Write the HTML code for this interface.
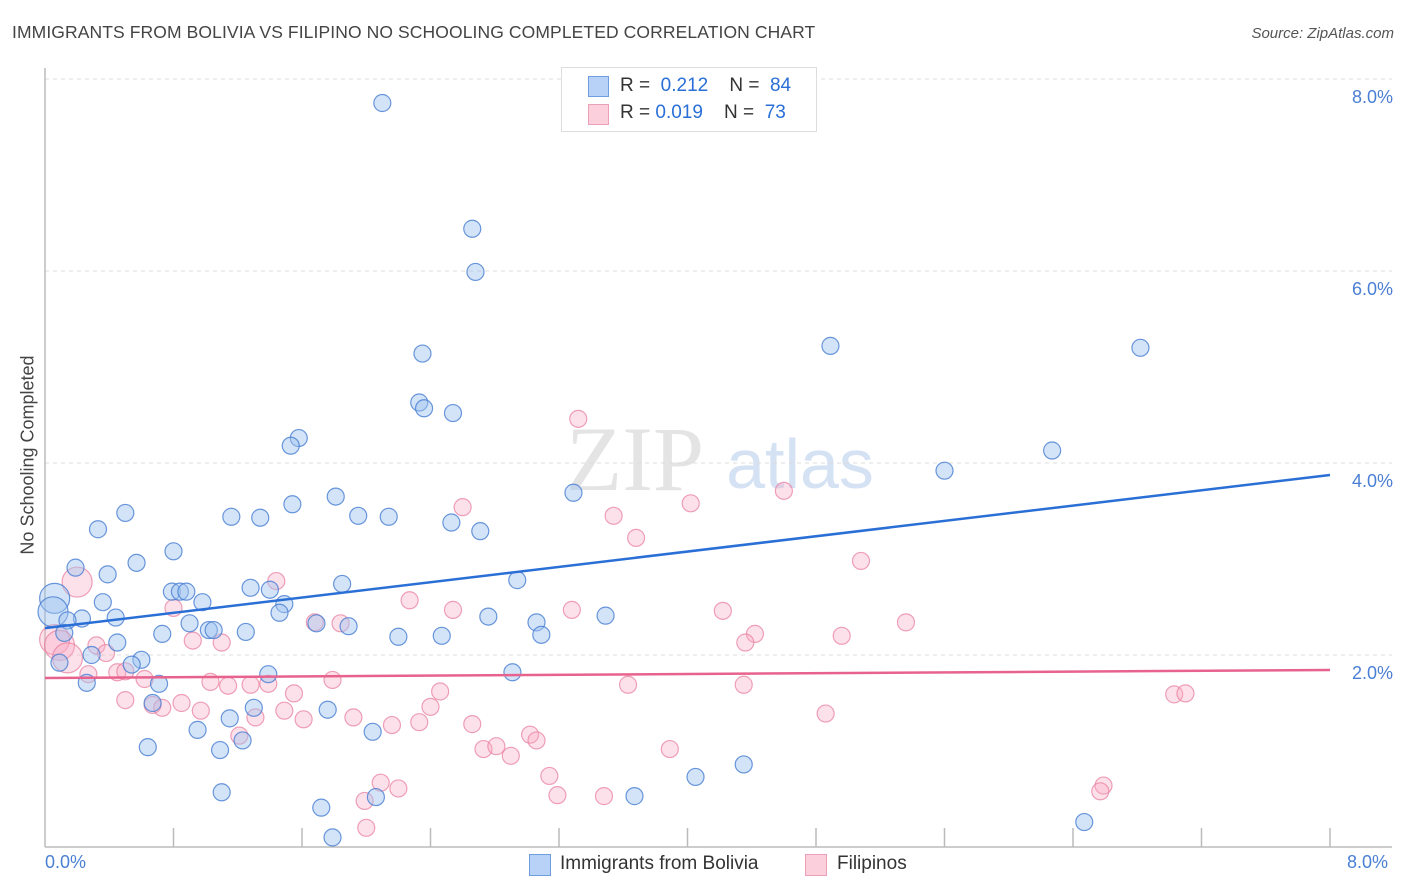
<!DOCTYPE html>
<html><head><meta charset="utf-8"><style>
body{margin:0;background:#fff;font-family:"Liberation Sans",sans-serif;}
#wrap{position:relative;width:1406px;height:892px;overflow:hidden;}
.t{position:absolute;white-space:nowrap;}
</style></head><body>
<div id="wrap">
<div class="t" style="left:12px;top:22px;font-size:17.5px;color:#444;letter-spacing:0.1px">IMMIGRANTS FROM BOLIVIA VS FILIPINO NO SCHOOLING COMPLETED CORRELATION CHART</div>
<div class="t" style="right:12px;top:25px;font-size:15px;color:#555;font-style:italic">Source: ZipAtlas.com</div>
<svg id="plot" width="1406" height="892" style="position:absolute;left:0;top:0"></svg>
</div>
<script>
const blueX=[2.10,2.66,2.68,2.35,4.89,6.82,2.33,2.36,2.54,1.58,1.53,6.27,5.60,3.29,1.81,1.54,0.50,0.33,1.16,1.34,1.95,2.14,2.53,2.71,0.80,0.57,0.19,0.39,1.85,2.94,1.28,1.40,0.79,0.84,0.88,0.98,0.36,1.49,0.06,0.05,1.46,0.23,0.14,0.44,2.76,3.49,0.90,1.69,1.89,3.06,1.02,1.05,1.25,0.73,0.12,2.20,2.47,3.09,0.45,0.60,0.29,0.54,0.09,0.26,0.71,1.39,2.91,0.67,1.30,1.76,1.15,0.95,2.04,1.23,0.64,1.09,4.05,4.35,1.10,2.06,3.67,1.72,1.79,6.47];
const blueY=[7.75,6.44,5.99,5.14,5.22,5.20,4.63,4.57,4.52,4.26,4.18,4.13,3.92,3.69,3.65,3.57,3.48,3.31,3.44,3.43,3.45,3.44,3.38,3.29,3.08,2.96,2.91,2.84,2.74,2.78,2.70,2.68,2.66,2.66,2.66,2.55,2.55,2.53,2.59,2.45,2.44,2.38,2.36,2.39,2.40,2.41,2.33,2.33,2.30,2.34,2.26,2.26,2.24,2.22,2.23,2.19,2.20,2.21,2.13,1.95,2.00,1.90,1.92,1.71,1.70,1.80,1.82,1.50,1.45,1.43,1.34,1.22,1.20,1.11,1.04,1.01,0.73,0.86,0.57,0.52,0.53,0.41,0.10,0.26];
const blueBig=[38,39];
const pinkX=[3.32,2.60,4.02,4.60,3.54,3.68,5.08,0.20,1.44,2.27,0.80,2.54,3.28,4.22,1.68,1.84,5.36,4.42,4.96,4.36,0.92,1.10,0.06,0.09,0.32,0.38,0.14,0.45,0.62,1.03,1.14,1.28,1.39,1.79,3.63,4.35,1.55,2.46,0.27,0.50,0.67,0.73,0.85,0.97,0.50,1.49,1.61,1.31,2.40,1.92,2.16,2.33,2.66,4.86,7.03,7.10,1.21,3.02,3.06,2.73,2.81,2.90,3.89,3.14,2.09,2.20,1.99,3.19,3.48,6.59,6.57,2.00];
const pinkY=[4.46,3.54,3.58,3.71,3.45,3.22,2.98,2.76,2.77,2.57,2.49,2.47,2.47,2.46,2.34,2.33,2.34,2.22,2.20,2.13,2.15,2.13,2.16,2.10,2.10,2.02,1.97,1.82,1.75,1.72,1.68,1.69,1.70,1.74,1.69,1.69,1.60,1.62,1.80,1.83,1.48,1.45,1.50,1.42,1.53,1.42,1.33,1.35,1.46,1.35,1.27,1.30,1.28,1.39,1.59,1.60,1.16,1.17,1.11,1.02,1.05,0.95,1.02,0.74,0.67,0.61,0.48,0.54,0.53,0.64,0.58,0.20];
const pinkBig=[7,22,23,26];
const blueTrend=[2.28,3.875];
const pinkTrend=[1.76,1.844];
const yTicks=[2,4,6,8];
const yTickLabels=["2.0%","4.0%","6.0%","8.0%"];
const xTickCount=10;

const NS="http://www.w3.org/2000/svg";
const svg=document.getElementById('plot');
const L=45,R=1330,T=79,B=847;
const sx=v=>L+v/8*(R-L);
const sy=v=>B-v/8*(B-T);
function mk(tag,attrs,parent){const e=document.createElementNS(NS,tag);for(const k in attrs)e.setAttribute(k,attrs[k]);(parent||svg).appendChild(e);return e;}

// watermark
let wm=mk('text',{x:635,y:490,'font-size':92,'font-family':'Liberation Serif, serif',fill:'#e4e4e4','text-anchor':'middle'});


wm.textContent='ZIP';
let wm2=mk('text',{x:800,y:488,'font-size':70,'font-family':'Liberation Sans, sans-serif',fill:'#d5e2f4','text-anchor':'middle'});


wm2.textContent='atlas';

// grid + y labels
yTicks.forEach((v,i)=>{
  let g=mk('line',{x1:L,x2:1392,y1:sy(v),y2:sy(v),stroke:'#dcdcdc','stroke-dasharray':'4,4','stroke-width':1});
  
  
  let t=mk('text',{x:1393,y:sy(v)+24,'font-size':18,fill:'#4a7fd4','text-anchor':'end','font-family':'Liberation Sans, sans-serif'});
  
  
  t.textContent=yTickLabels[i];
});
// axes
let ya=mk('line',{x1:L,x2:L,y1:68,y2:B,stroke:'#bbb','stroke-width':1.5});


let xa=mk('line',{x1:L,x2:1392,y1:B,y2:B,stroke:'#bbb','stroke-width':1.5});


for(let i=1;i<=xTickCount;i++){
  let x=sx(i*8/xTickCount);
  let tk=mk('line',{x1:x,x2:x,y1:828,y2:B,stroke:'#bbb','stroke-width':1.5});
  
  
}
// points
function pts(X,Y,big,fill,stroke,name){
  X.forEach((x,i)=>{
    const r=big.includes(i)?15:8.5;
    let c=mk('circle',{cx:sx(x),cy:sy(Y[i]),r:r,fill:fill,stroke:stroke,'stroke-width':1.2});
    
    
  });
}
pts(pinkX,pinkY,pinkBig,'rgba(248,170,195,0.35)','rgba(232,130,160,0.75)','filipinos-point');
pts(blueX,blueY,blueBig,'rgba(160,195,240,0.45)','rgba(70,125,210,0.8)','bolivia-point');
// trends
let bt=mk('line',{x1:sx(0),x2:sx(8),y1:sy(blueTrend[0]),y2:sy(blueTrend[1]),stroke:'#2a6fd6','stroke-width':2.5});


let pt=mk('line',{x1:sx(0),x2:sx(8),y1:sy(pinkTrend[0]),y2:sy(pinkTrend[1]),stroke:'#e8628e','stroke-width':2.5});


</script>
<div class="t" style="left:20px;top:455px;transform:translate(-50%,-50%) rotate(-90deg);transform-origin:center;margin-left:8px;font-size:18px;color:#444">No Schooling Completed</div>
<div class="t" style="left:45px;top:852px;font-size:18px;color:#4a7fd4">0.0%</div>
<div class="t" style="left:1347px;top:852px;font-size:18px;color:#4a7fd4">8.0%</div>
<div style="position:absolute;left:561px;top:67px;width:254px;height:63px;border:1px solid #ddd;background:#fff;font-size:19px;color:#333">
 <div style="position:absolute;left:26px;top:8px;width:19px;height:19px;background:#b7d2f6;border:1px solid #6c9ee0"></div>
 <div class="t" style="left:58px;top:7px">R = &nbsp;<span style="color:#2a6fd6">0.212</span>&nbsp;&nbsp;&nbsp; N = &nbsp;<span style="color:#2a6fd6">84</span></div>
 <div style="position:absolute;left:26px;top:36px;width:19px;height:19px;background:#fbcfdc;border:1px solid #eba0b8"></div>
 <div class="t" style="left:58px;top:34px">R = <span style="color:#2a6fd6">0.019</span>&nbsp;&nbsp;&nbsp; N = &nbsp;<span style="color:#2a6fd6">73</span></div>
</div>
<div style="position:absolute;left:529px;top:854px;width:20px;height:20px;background:#b7d2f6;border:1px solid #6c9ee0"></div>
<div class="t" style="left:560px;top:853px;font-size:19px;color:#333">Immigrants from Bolivia</div>
<div style="position:absolute;left:805px;top:854px;width:20px;height:20px;background:#fbcfdc;border:1px solid #eba0b8"></div>
<div class="t" style="left:837px;top:853px;font-size:19px;color:#333">Filipinos</div>
</body></html>
